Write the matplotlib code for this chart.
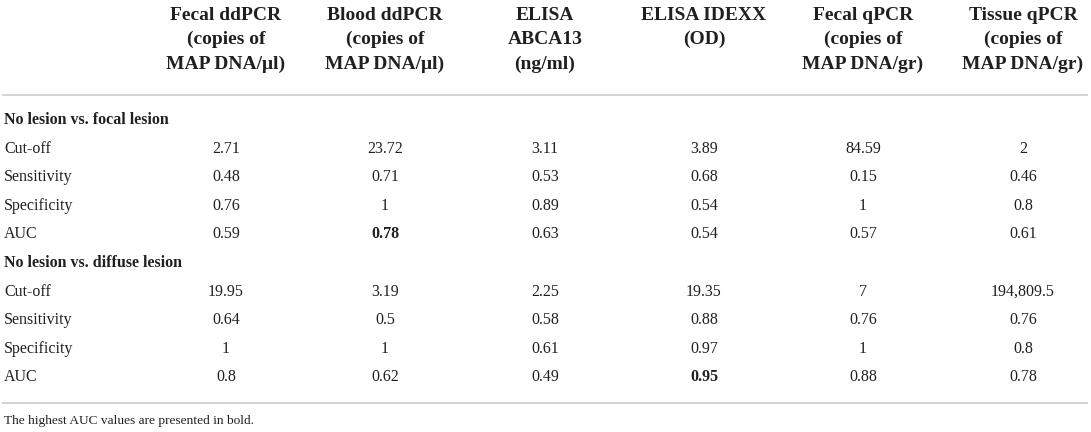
import matplotlib.pyplot as plt

# --- Table content ---
columns = [
    "Fecal ddPCR\n(copies of\nMAP DNA/μl)",
    "Blood ddPCR\n(copies of\nMAP DNA/μl)",
    "ELISA\nABCA13\n(ng/ml)",
    "ELISA IDEXX\n(OD)",
    "Fecal qPCR\n(copies of\nMAP DNA/gr)",
    "Tissue qPCR\n(copies of\nMAP DNA/gr)",
]
row_labels = ["Cut-off", "Sensitivity", "Specificity", "AUC"]

focal_title = "No lesion vs. focal lesion"
focal_cutoff = ["2.71", "23.72", "3.11", "3.89", "84.59", "2"]
focal_sens = ["0.48", "0.71", "0.53", "0.68", "0.15", "0.46"]
focal_spec = ["0.76", "1", "0.89", "0.54", "1", "0.8"]
focal_auc = ["0.59", "0.78", "0.63", "0.54", "0.57", "0.61"]

diffuse_title = "No lesion vs. diffuse lesion"
diffuse_cutoff = ["19.95", "3.19", "2.25", "19.35", "7", "194,809.5"]
diffuse_sens = ["0.64", "0.5", "0.58", "0.88", "0.76", "0.76"]
diffuse_spec = ["1", "1", "0.61", "0.97", "1", "0.8"]
diffuse_auc = ["0.8", "0.62", "0.49", "0.95", "0.88", "0.78"]

footnote = "The highest AUC values are presented in bold."

sections = [
    (focal_title, [focal_cutoff, focal_sens, focal_spec, focal_auc]),
    (diffuse_title, [diffuse_cutoff, diffuse_sens, diffuse_spec, diffuse_auc]),
]

# --- Layout (pixels) ---
W, H = 1091, 432
col_x = [226, 385, 545, 704, 863, 1023]
label_x = 4
header_y = [15, 39.5, 64]
row_step = 28.6
ink = "#231f20"
rule_color = "#d0d0d0"
font = "Liberation Serif"

fig = plt.figure(figsize=(W / 100, H / 100), dpi=100)
ax = fig.add_axes([0, 0, 1, 1])
ax.set_xlim(0, W)
ax.set_ylim(H, 0)
ax.axis("off")

# header
for x, col in zip(col_x, columns):
    for i, line in enumerate(col.split("\n")):
        ax.text(x, header_y[i], line, ha="center", va="center",
                fontsize=14, fontweight="bold", family=font, color=ink)

ax.plot([3, W - 4], [95, 95], color=rule_color, lw=1.3)

y = 120
for title, rows in sections:
    ax.text(label_x, y, title, ha="left", va="center", fontsize=11.5,
            fontweight="bold", family=font, color=ink)
    y += row_step
    best = max(range(len(rows[3])), key=lambda k: float(rows[3][k]))
    for r, (label, vals) in enumerate(zip(row_labels, rows)):
        ax.text(label_x, y, label, ha="left", va="center", fontsize=11.5,
                family=font, color=ink)
        for k, (x, v) in enumerate(zip(col_x, vals)):
            bold = (r == 3 and k == best)
            ax.text(x, y, v, ha="center", va="center", fontsize=11.5,
                    fontweight="bold" if bold else "normal",
                    family=font, color=ink)
        y += row_step

ax.plot([3, W - 4], [403, 403], color=rule_color, lw=1.3)
ax.text(label_x, 421, footnote, ha="left", va="center", fontsize=9.6,
        family=font, color=ink)

fig.savefig("out.png", dpi=100, facecolor="white")
